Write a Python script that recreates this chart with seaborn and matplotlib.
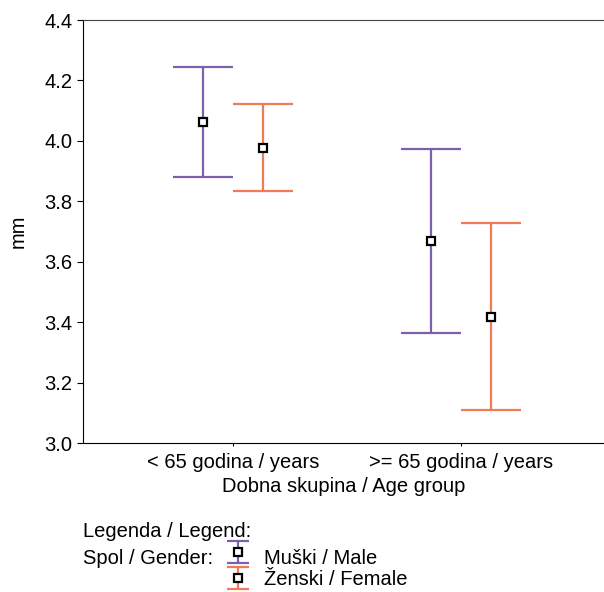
import numpy as np
import seaborn as sns
import matplotlib.pyplot as plt

# podaci (procjena s grafa)
skupine = ["< 65 godina / years", ">= 65 godina / years"]
spol = ["Muški / Male", "Ženski / Female"]
sredina = {"Muški / Male": [4.062, 3.668], "Ženski / Female": [3.977, 3.417]}
donja = {"Muški / Male": [3.880, 3.364], "Ženski / Female": [3.834, 3.109]}
gornja = {"Muški / Male": [4.245, 3.974], "Ženski / Female": [4.122, 3.727]}

boje = {"Muški / Male": "#7B61AB", "Ženski / Female": "#F07C55"}
pomak = {"Muški / Male": -0.132, "Ženski / Female": 0.132}
FS = 14.5

sns.set_style("ticks")
plt.rcParams["font.family"] = ["Liberation Sans", "DejaVu Sans"]
plt.rcParams["text.color"] = "black"
plt.rcParams["axes.labelcolor"] = "black"

fig = plt.figure(figsize=(6.04, 5.92), dpi=100)
ax = fig.add_axes([83 / 604, 1 - 443 / 592, 1 - 83 / 604, (443 - 20) / 592])

stil = dict(fmt="s", elinewidth=1.6, capthick=1.6, markersize=6,
            markerfacecolor="white", markeredgecolor="black", markeredgewidth=1.6)

x = np.arange(len(skupine))
for s in spol:
    m = np.array(sredina[s])
    err = [m - np.array(donja[s]), np.array(gornja[s]) - m]
    ax.errorbar(x + pomak[s], m, yerr=err, color=boje[s], ecolor=boje[s],
                capsize=21.6, zorder=3, **stil)

ax.set_xlim(-0.658, 1.627)
ax.set_ylim(3.0, 4.4)
ax.set_yticks(np.arange(3.0, 4.41, 0.2))
ax.set_yticklabels([f"{v:.1f}" for v in np.arange(3.0, 4.41, 0.2)])
ax.set_xticks(x)
ax.set_xticklabels(skupine)
ax.tick_params(labelsize=FS, colors="black")
ax.tick_params(axis="y", length=4)
ax.tick_params(axis="x", length=2.5, pad=5)
ax.set_ylabel("mm", fontsize=FS, labelpad=12)
ax.set_xlabel("Dobna skupina / Age group", fontsize=FS, labelpad=3)
ax.spines["right"].set_visible(False)
ax.spines["top"].set_color("#444444")
for sp in ["left", "bottom"]:
    ax.spines[sp].set_color("black")

# legenda - zasebna os u pikselima
lg = fig.add_axes([0, 0, 1, 1], zorder=-1)
lg.set_xlim(0, 604)
lg.set_ylim(592, 0)
lg.axis("off")
lg.text(83, 537, "Legenda / Legend:", fontsize=FS, va="baseline")
lg.text(83, 564, "Spol / Gender:", fontsize=FS, va="baseline")
for s, yc, yb in zip(spol, [552, 578], [564, 585]):
    lg.errorbar([238], [yc], yerr=[[11], [11]], color=boje[s], ecolor=boje[s],
                capsize=7.9, **stil)
    lg.text(264, yb, s, fontsize=FS, va="baseline")

fig.savefig("out.png", dpi=100)
